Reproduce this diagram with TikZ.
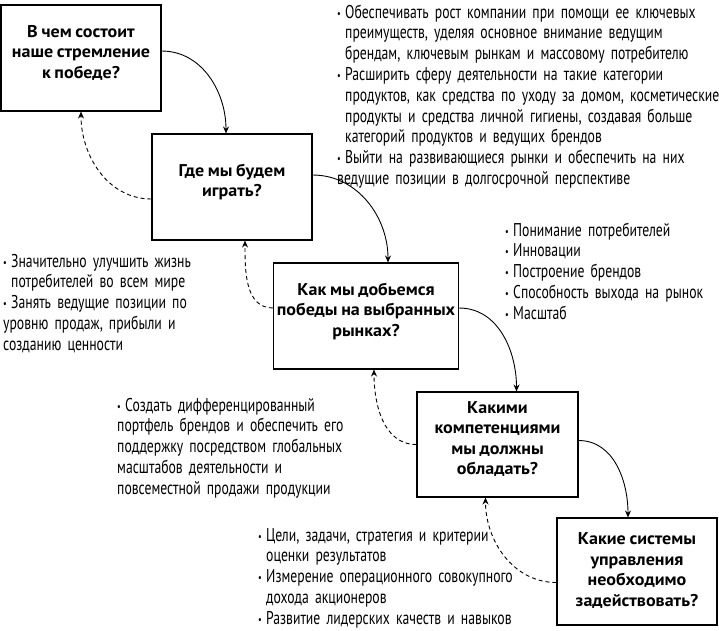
\documentclass[tikz,border=0pt]{standalone}
\usepackage{fontspec}
\setmainfont{PT Sans}[FakeStretch=0.74, WordSpace=0.7]
\newfontfamily\headfont{PT Sans}[FakeStretch=1.06, WordSpace=0.8]
\usetikzlibrary{arrows.meta}
\newcommand{\itm}{\par\noindent\hangindent=8pt\hangafter=1\makebox[8pt][l]{\raisebox{1pt}{\fontsize{11}{11}\selectfont\textbullet}}}

\begin{document}
\begin{tikzpicture}[
    x=1pt, y=-1pt,
    box/.style={rectangle, draw, line width=1.1pt, minimum width=160pt, minimum height=106pt, align=center, text depth=13pt, font=\headfont\fontsize{17}{20.5}\selectfont\bfseries},
    note/.style={anchor=north west, inner sep=0pt, align=left, font=\fontsize{18.5}{20.8}\selectfont},
    arrow/.style={-{Stealth[length=7pt, width=6pt]}, line width=0.9pt},
    back/.style={arrow, dash pattern=on 4pt off 3pt}
]
    \useasboundingbox (0,0) rectangle (719,630);

    % Questions
    \node[box] (aspire) at (81,58) {В чем состоит\\наше стремление\\к победе?};
    \node[box] (where) at (232,187) {Где мы будем\\играть?};
    \node[box, minimum width=174pt] (how) at (366,316) {Как мы добьемся\\победы на выбранных\\рынках?};
    \node[box, minimum width=161pt, minimum height=105pt] (skills) at (497.5,444.5) {Какими\\компетенциями\\мы должны\\обладать?};
    \node[box, minimum height=107pt, text depth=4pt] (systems) at (637,571.5) {Какие системы\\управления\\необходимо\\задействовать?};

    % Answers
    \node[note, text width=385pt] (whereText) at (337,-3) {%
        \itm Обеспечивать рост компании при помощи ее ключевых\newline преимуществ, уделяя основное внимание ведущим\newline брендам, ключевым рынкам и массовому потребителю
        \itm Расширить сферу деятельности на такие категории\newline продуктов, как средства по уходу за домом, косметические\newline продукты и средства личной гигиены, создавая больше\newline категорий продуктов и ведущих брендов
        \itm Выйти на развивающиеся рынки и обеспечить на них\newline ведущие позиции в долгосрочной перспективе};
    \node[note, text width=240pt] (aspireText) at (3,246) {%
        \itm Значительно улучшить жизнь\newline потребителей во всем мире
        \itm Занять ведущие позиции по\newline уровню продаж, прибыли и\newline созданию ценности};
    \node[note, text width=210pt] (skillsText) at (505,215) {%
        \itm Понимание потребителей
        \itm Инновации
        \itm Построение брендов
        \itm Способность выхода на рынок
        \itm Масштаб};
    \node[note, text width=280pt] (howText) at (117,390) {%
        \itm Создать дифференцированный\newline портфель брендов и обеспечить его\newline поддержку посредством глобальных\newline масштабов деятельности и\newline повсеместной продажи продукции};
    \node[note, text width=280pt] (systemsText) at (258,520) {%
        \itm Цели, задачи, стратегия и критерии\newline оценки результатов
        \itm Измерение операционного совокупного\newline дохода акционеров
        \itm Развитие лидерских качеств и навыков};

    % Forward
    \draw[arrow] ([yshift=7pt]aspire.east) to[out=0, in=90] ([xshift=-6pt]where.north);
    \draw[arrow] ([yshift=12pt]where.east) to[out=0, in=90] ([xshift=22pt]how.north);
    \draw[arrow] ([yshift=8pt]how.east) to[out=0, in=90] ([xshift=19pt]skills.north);
    \draw[arrow] ([yshift=4pt]skills.east) to[out=0, in=90] ([xshift=-9pt]systems.north);

    % Feedback
    \draw[back] ([yshift=-12pt]where.west) to[out=180, in=-90] (aspire.south);
    \draw[back] ([yshift=8pt]how.west) to[out=180, in=-90] ([xshift=13pt]where.south);
    \draw[back] (skills.west) to[out=180, in=-90] ([xshift=8pt]how.south);
    \draw[back] ([yshift=-11pt]systems.west) to[out=180, in=-90] ([xshift=-12pt]skills.south);
\end{tikzpicture}
\end{document}
